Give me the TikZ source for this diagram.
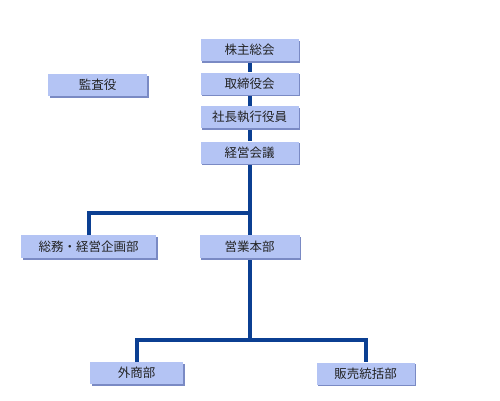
\documentclass[tikz,border=0pt]{standalone}
\usepackage{fontspec}
\newfontfamily\jpfont{Noto Sans CJK JP}
\usetikzlibrary{backgrounds,shadows}
\definecolor{boxfill}{HTML}{B4C4F4}
\definecolor{boxshadow}{HTML}{7A8AC4}
\definecolor{linecol}{HTML}{0B3F92}
\definecolor{txt}{HTML}{222222}
\begin{document}
\begin{tikzpicture}[x=1pt,y=-1pt,
  orgbox/.style={fill=boxfill, draw=none, text=txt, font=\jpfont\fontsize{12.5}{14}\selectfont,
    inner sep=0pt, minimum width=#1, minimum height=22pt,
    drop shadow={shadow xshift=1.6pt, shadow yshift=-1.6pt, fill=boxshadow, opacity=1}},
  orgbox/.default=98pt,
  conn/.style={draw=linecol, line width=4pt, line join=miter}]
\useasboundingbox (0,0) rectangle (500,400);
\node[orgbox] (kabu) at (249.5,50) {株主総会};
\node[orgbox] (tori) at (249.5,83.5) {取締役会};
\node[orgbox] (shacho) at (249.5,117) {社長執行役員};
\node[orgbox] (keiei) at (249.5,152.5) {経営会議};
\node[orgbox=99pt] (kansa) at (97.5,85) {監査役};
\node[orgbox=135pt, minimum height=23pt] (somu) at (88.5,246.5) {総務・経営企画部};
\node[orgbox=100pt, minimum height=23pt] (eigyo) at (249.5,246.5) {営業本部};
\node[orgbox=93pt] (gaisho) at (136.5,373) {外商部};
\node[orgbox=98pt] (hanbai) at (365.5,373.5) {販売統括部};
\coordinate (j1) at (249.5,213);
\coordinate (j2) at (249.5,340);
\begin{scope}[on background layer]
\draw[conn] (kabu) -- (tori);
\draw[conn] (tori) -- (shacho);
\draw[conn] (shacho) -- (keiei);
\draw[conn] (keiei) -- (eigyo);
\draw[conn] (somu.north) |- (j1);
\draw[conn] (eigyo) -- (j2);
\draw[conn] (gaisho.north) |- (j2) -| (hanbai.north);
\end{scope}
\end{tikzpicture}
\end{document}
